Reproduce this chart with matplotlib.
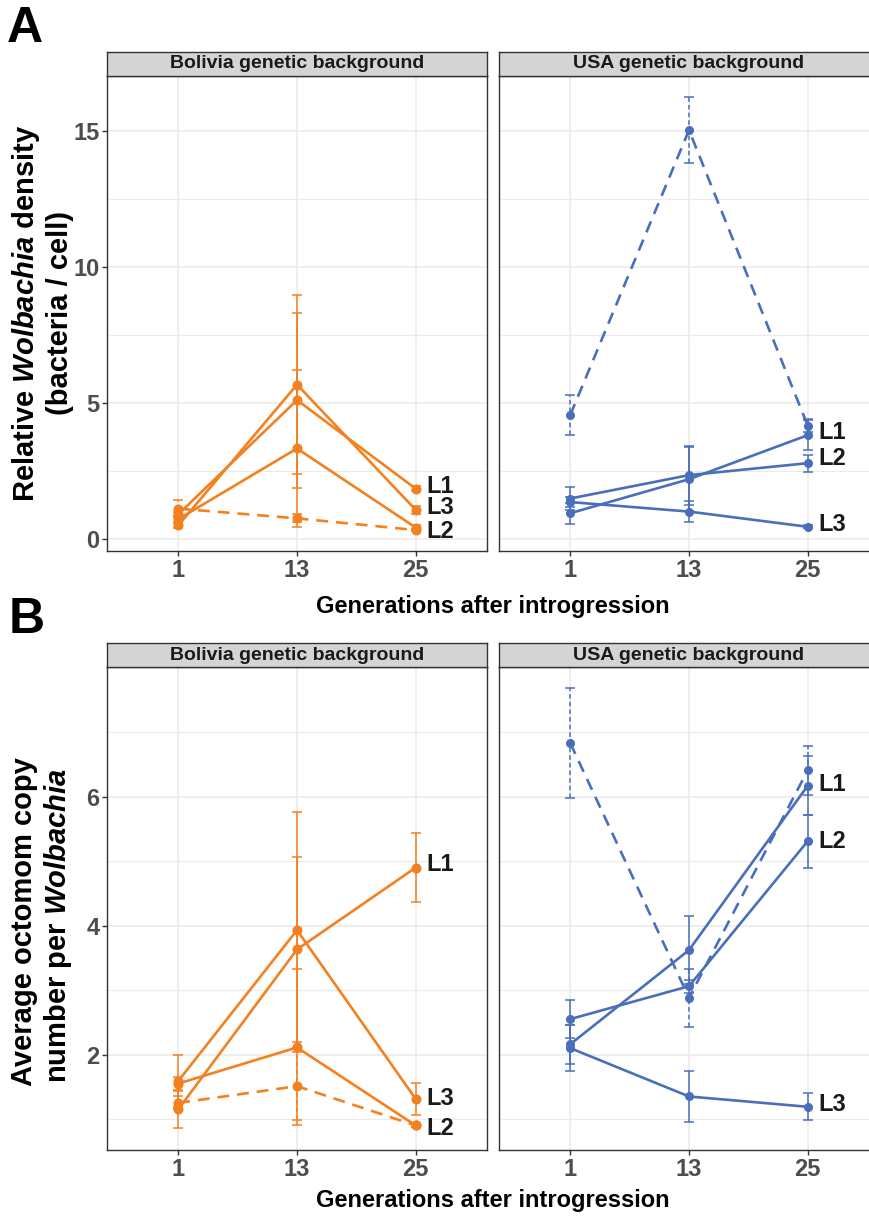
import matplotlib
matplotlib.use('Agg')
import matplotlib.pyplot as plt
from matplotlib.ticker import FixedLocator

plt.rcParams['font.family'] = ['Liberation Sans', 'DejaVu Sans']
plt.rcParams['font.weight'] = 'bold'
plt.rcParams['mathtext.fontset'] = 'custom'
plt.rcParams['mathtext.rm'] = 'Liberation Sans:bold'
plt.rcParams['mathtext.bf'] = 'Liberation Sans:bold'
plt.rcParams['mathtext.it'] = 'Liberation Sans:italic:bold'

W, H = 870, 1222

generations = ['1', '13', '25']
backgrounds = ['Bolivia genetic background', 'USA genetic background']

# panel A: relative Wolbachia density (bacteria / cell)
dens_bolivia = {'ctrl': [1.12, 0.76, 0.33], 'L1': [0.91, 5.11, 1.85],
                'L2': [0.73, 3.33, 0.42], 'L3': [0.50, 5.68, 1.07]}
dens_bolivia_err = {'ctrl': [0.31, 0.15, 0.05], 'L1': [0.10, 3.22, 0.10],
                    'L2': [0.10, 2.89, 0.08], 'L3': [0.10, 3.30, 0.15]}
dens_usa = {'ctrl': [4.56, 15.04, 4.17], 'L1': [0.95, 2.20, 3.82],
            'L2': [1.49, 2.35, 2.79], 'L3': [1.36, 1.01, 0.45]}
dens_usa_err = {'ctrl': [0.75, 1.20, 0.24], 'L1': [0.39, 1.17, 0.55],
                'L2': [0.44, 1.08, 0.31], 'L3': [0.20, 0.40, 0.05]}
dens_ticks = [0, 5, 10, 15]

# panel B: average octomom copy number per Wolbachia
octo_bolivia = {'ctrl': [1.25, 1.51, 0.90], 'L1': [1.15, 3.63, 4.90],
                'L2': [1.55, 2.11, 0.90], 'L3': [1.59, 3.93, 1.31]}
octo_bolivia_err = {'ctrl': [0.10, 0.53, 0.03], 'L1': [0.29, 1.44, 0.54],
                    'L2': [0.10, 1.21, 0.03], 'L3': [0.40, 1.83, 0.25]}
octo_usa = {'ctrl': [6.83, 2.88, 6.41], 'L1': [2.16, 3.62, 6.17],
            'L2': [2.55, 3.06, 5.31], 'L3': [2.10, 1.35, 1.19]}
octo_usa_err = {'ctrl': [0.85, 0.45, 0.38], 'L1': [0.30, 0.53, 0.46],
                'L2': [0.30, 0.10, 0.41], 'L3': [0.36, 0.39, 0.21]}
octo_ticks = [2, 4, 6]

orange = '#F4801F'
blue = '#4A6FBA'
grid_col = '#EBEBEB'
frame_col = '#333333'


def rect(left, top, right, bottom):
    return [left / W, 1 - bottom / H, (right - left) / W, (bottom - top) / H]


def draw_facet(ax, vals, errs, color, ms, nudge, ylim, ticks, show_y):
    x = list(range(len(generations)))
    for name in ['ctrl', 'L1', 'L2', 'L3']:
        dashed = name == 'ctrl'
        eb = ax.errorbar(x, vals[name], yerr=errs[name], color=color, lw=1.9,
                         ls=(0, (4.5, 3)) if dashed else '-', marker='o', ms=ms,
                         capsize=3.5, elinewidth=1.1, capthick=1.1, zorder=3)
        if dashed:
            eb[2][0].set_linestyle((0, (3, 2)))
    for name in ['L1', 'L2', 'L3']:
        ax.text(2 + 0.09, vals[name][-1] + nudge[name], name, fontsize=17,
                color='#1A1A1A', ha='left', va='center', zorder=4)
    ax.set_xlim(-0.6, 2.6)
    ax.set_ylim(*ylim)
    ax.set_xticks(x)
    ax.set_xticklabels(generations)
    step = ticks[1] - ticks[0]
    minors = [ticks[0] - step / 2] + [t + step / 2 for t in ticks]
    ax.yaxis.set_major_locator(FixedLocator(ticks))
    ax.yaxis.set_minor_locator(FixedLocator(minors))
    ax.grid(True, which='major', color=grid_col, lw=1.2, zorder=0)
    ax.grid(True, which='minor', axis='y', color=grid_col, lw=0.9, zorder=0)
    ax.set_axisbelow(True)
    for s in ax.spines.values():
        s.set_color(frame_col)
        s.set_linewidth(1.0)
    ax.tick_params(which='major', length=3.5, width=1.0, color=frame_col,
                   labelsize=17, labelcolor='#4D4D4D', pad=2)
    ax.tick_params(which='minor', length=0)
    if not show_y:
        ax.tick_params(axis='y', which='both', length=0, labelleft=False)


def draw_strip(fig, box, label):
    sax = fig.add_axes(box)
    sax.set_facecolor('#D4D4D4')
    sax.set_xticks([])
    sax.set_yticks([])
    for s in sax.spines.values():
        s.set_color(frame_col)
        s.set_linewidth(1.0)
    sax.text(0.5, 0.5, label, ha='center', va='center', fontsize=14,
             color='#1A1A1A', transform=sax.transAxes)


fig = plt.figure(figsize=(W / 100, H / 100), dpi=100)

facets = [
    (dens_bolivia, dens_bolivia_err, orange, 6.2,
     {'L1': 0.10, 'L2': -0.13, 'L3': 0.08}, 107, 487, 76, 551,
     (-0.44, 17.03), dens_ticks, True, backgrounds[0]),
    (dens_usa, dens_usa_err, blue, 5.5,
     {'L1': 0.10, 'L2': 0.18, 'L3': 0.09}, 499, 879, 76, 551,
     (-0.44, 17.03), dens_ticks, False, backgrounds[1]),
    (octo_bolivia, octo_bolivia_err, orange, 6.2,
     {'L1': 0.05, 'L2': -0.04, 'L3': 0.01}, 107, 487, 667, 1150,
     (0.52, 8.01), octo_ticks, True, backgrounds[0]),
    (octo_usa, octo_usa_err, blue, 5.5,
     {'L1': 0.02, 'L2': 0.0, 'L3': 0.03}, 499, 879, 667, 1150,
     (0.52, 8.01), octo_ticks, False, backgrounds[1]),
]

for (vals, errs, color, ms, nudge, l, r, t, b, ylim, ticks, show_y,
     label) in facets:
    ax = fig.add_axes(rect(l, t, r, b))
    draw_facet(ax, vals, errs, color, ms, nudge, ylim, ticks, show_y)
    draw_strip(fig, rect(l, t - 24, r, t), label)

# axis titles
fig.text(26 / W, 1 - 313 / H, r'Relative $\mathit{Wolbachia}$ density',
         rotation=90, ha='center', va='center', fontsize=21)
fig.text(60 / W, 1 - 313 / H, '(bacteria / cell)',
         rotation=90, ha='center', va='center', fontsize=21)
fig.text(24 / W, 1 - 922 / H, 'Average octomom copy',
         rotation=90, ha='center', va='center', fontsize=21)
fig.text(58 / W, 1 - 925 / H, r'number per $\mathit{Wolbachia}$',
         rotation=90, ha='center', va='center', fontsize=21)
fig.text(493 / W, 1 - 606 / H, 'Generations after introgression',
         ha='center', va='center', fontsize=17)
fig.text(493 / W, 1 - 1200 / H, 'Generations after introgression',
         ha='center', va='center', fontsize=17)

# panel letters
fig.text(7 / W, 1 - 42 / H, 'A', fontsize=36, ha='left', va='baseline')
fig.text(9 / W, 1 - 633 / H, 'B', fontsize=36, ha='left', va='baseline')

fig.savefig('out.png', dpi=100)
